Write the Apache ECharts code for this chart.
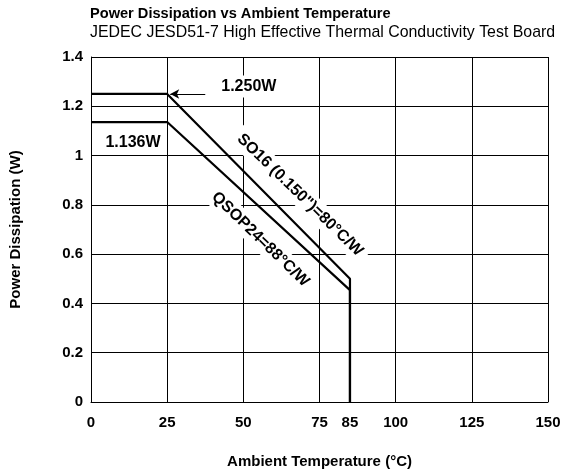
<!DOCTYPE html>
<html>
<head>
<meta charset="utf-8">
<script src="https://cdn.jsdelivr.net/npm/echarts@6/dist/echarts.min.js"></script>
<style>html,body{margin:0;padding:0;background:#fff}#c{width:566px;height:471px}</style>
</head>
<body>
<div id="c"></div>
<script>
const xTicks = [0, 25, 50, 75, 85, 100, 125, 150];
const so16 = [[0, 1.25], [25, 1.25], [85, 0.5], [85, 0]];
const qsop24 = [[0, 1.136], [25, 1.136], [85, 0.454], [85, 0]];
const annotations = [
  { text: '1.250W', at: [51.8, 1.28], rotate: 0 },
  { text: '1.136W', at: [13.8, 1.051], rotate: 0 },
  { text: 'SO16 (0.150")=80°C/W', at: [68.6, 0.84], rotate: -44 },
  { text: 'QSOP24=88°C/W', at: [55.6, 0.66], rotate: -44 }
];
const arrow = { from: [37.5, 1.25], to: [26, 1.25] };

const FONT = 'Liberation Sans, Arial, sans-serif';
const chart = echarts.init(document.getElementById('c'));
chart.setOption({
  animation: false,
  backgroundColor: '#fff',
  title: {
    text: 'Power Dissipation vs Ambient Temperature',
    subtext: 'JEDEC JESD51-7 High Effective Thermal Conductivity Test Board',
    left: 90, top: 6, itemGap: 4, padding: 0,
    textStyle: { fontFamily: FONT, fontSize: 14.6, fontWeight: 'bold', color: '#000' },
    subtextStyle: { fontFamily: FONT, fontSize: 15.9, color: '#000' }
  },
  grid: { left: 91, right: 18, top: 57, bottom: 69, containLabel: false, outerBoundsMode: 'none' },
  xAxis: {
    type: 'value', min: 0, max: 150, interval: 25,
    name: 'Ambient Temperature (°C)', nameLocation: 'middle', nameGap: 52,
    nameTextStyle: { fontFamily: FONT, fontSize: 15, fontWeight: 'bold', color: '#000' },
    axisLine: { show: true, lineStyle: { color: '#000', width: 1 } },
    axisTick: { show: false },
    axisLabel: { customValues: xTicks, fontFamily: FONT, fontSize: 15, fontWeight: 'bold', color: '#000', margin: 13 },
    splitLine: { show: true, lineStyle: { color: '#000', width: 1 } }
  },
  yAxis: {
    type: 'value', min: 0, max: 1.4, interval: 0.2,
    name: 'Power Dissipation (W)', nameLocation: 'middle', nameGap: 68,
    nameTextStyle: { fontFamily: FONT, fontSize: 15, fontWeight: 'bold', color: '#000' },
    axisLine: { show: true, lineStyle: { color: '#000', width: 1 } },
    axisTick: { show: false },
    axisLabel: { fontFamily: FONT, fontSize: 15, fontWeight: 'bold', color: '#000', margin: 8,
      formatter: v => String(Math.round(v * 10) / 10) },
    splitLine: { show: true, lineStyle: { color: '#000', width: 1 } }
  },
  series: [
    {
      type: 'line', data: so16, symbol: 'none', z: 3,
      lineStyle: { color: '#000', width: 2.2 }
    },
    {
      type: 'line', data: qsop24, symbol: 'none', z: 3,
      lineStyle: { color: '#000', width: 2.2 },
      markLine: {
        silent: true, symbol: ['none', 'arrow'], symbolSize: [7, 9],
        lineStyle: { color: '#000', width: 1, type: 'solid' },
        label: { show: false },
        data: [[{ coord: arrow.from }, { coord: arrow.to }]]
      },
      markPoint: {
        silent: true, symbol: 'rect', symbolSize: 0,
        data: annotations.map(a => ({
          coord: a.at,
          label: {
            show: true, position: 'inside', formatter: a.text, rotate: a.rotate,
            fontFamily: FONT, fontSize: 16, fontWeight: 'bold', color: '#000',
            backgroundColor: '#fff', padding: [3, 6]
          }
        }))
      }
    }
  ]
});
</script>
</body>
</html>
